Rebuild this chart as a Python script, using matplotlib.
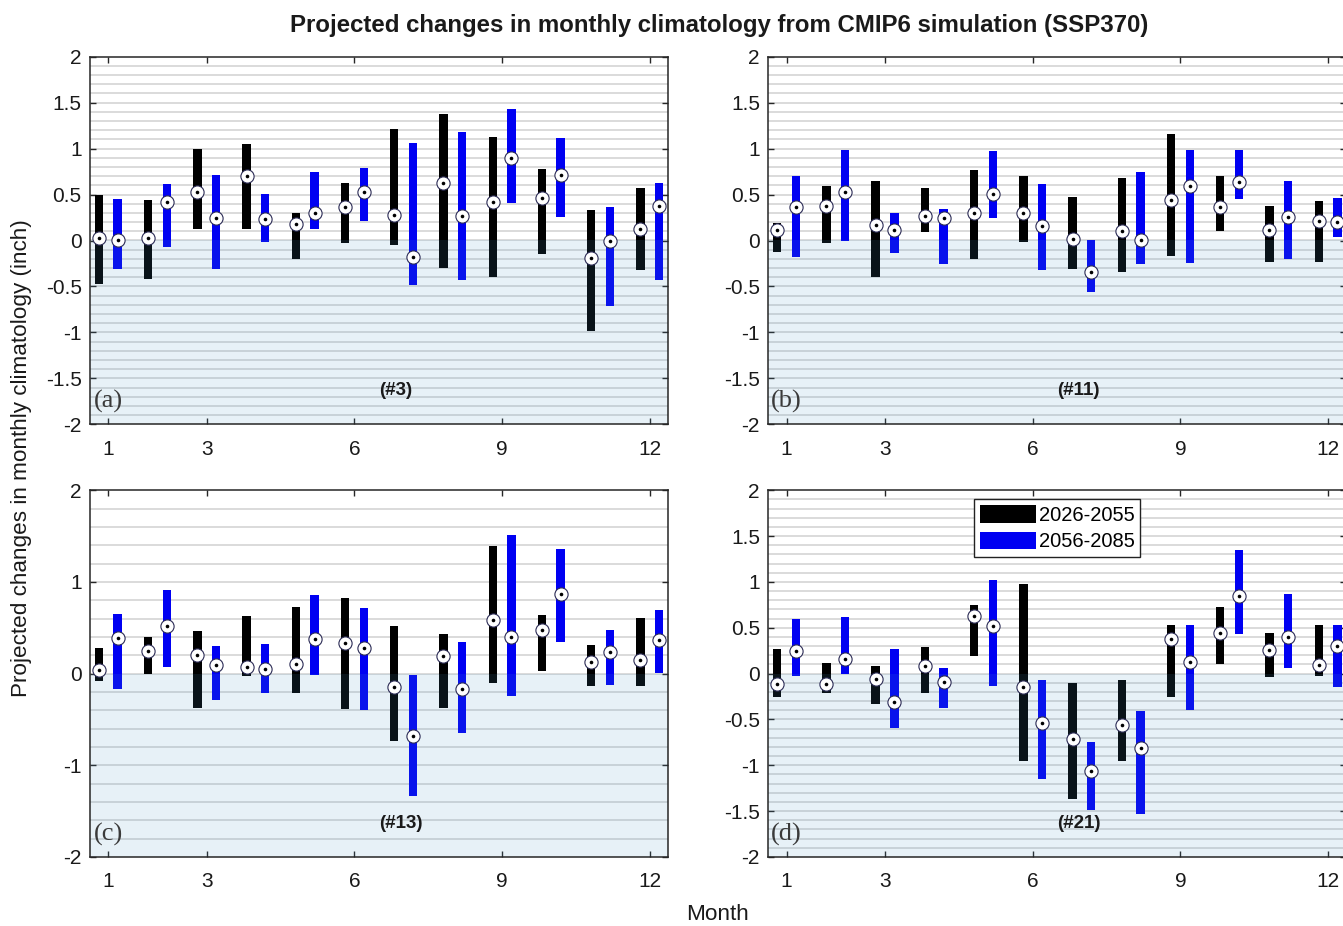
import matplotlib
matplotlib.use("Agg")
import matplotlib.pyplot as plt
import numpy as np
from matplotlib.patches import Patch
from matplotlib.ticker import FuncFormatter

plt.rcParams['font.family'] = ['Liberation Sans', 'DejaVu Sans']
plt.rcParams['axes.unicode_minus'] = False

months = list(range(1, 13))
xtick_months = [1, 3, 6, 9, 12]
periods = ['2026-2055', '2056-2085']
panel_letters = ['(a)', '(b)', '(c)', '(d)']
panel_ids = ['(#3)', '(#11)', '(#13)', '(#21)']

# Panel (a) #3
a_p1_high = [0.49, 0.44, 1.00, 1.05, 0.30, 0.63, 1.21, 1.38, 1.13, 0.78, 0.33, 0.57]
a_p1_low = [-0.47, -0.42, 0.12, 0.13, -0.20, -0.03, -0.05, -0.30, -0.40, -0.15, -0.98, -0.32]
a_p1_med = [0.03, 0.03, 0.53, 0.70, 0.18, 0.36, 0.28, 0.63, 0.42, 0.46, -0.19, 0.12]
a_p2_high = [0.45, 0.61, 0.71, 0.51, 0.74, 0.79, 1.06, 1.18, 1.43, 1.12, 0.36, 0.63]
a_p2_low = [-0.31, -0.07, -0.31, -0.02, 0.13, 0.21, -0.48, -0.43, 0.41, 0.26, -0.71, -0.43]
a_p2_med = [0.01, 0.42, 0.25, 0.23, 0.30, 0.53, -0.18, 0.27, 0.90, 0.71, -0.01, 0.38]

# Panel (b) #11
b_p1_high = [0.19, 0.59, 0.65, 0.57, 0.77, 0.70, 0.47, 0.68, 1.16, 0.70, 0.38, 0.43]
b_p1_low = [-0.12, -0.03, -0.40, 0.09, -0.20, -0.02, -0.31, -0.34, -0.17, 0.10, -0.23, -0.23]
b_p1_med = [0.11, 0.38, 0.17, 0.27, 0.30, 0.30, 0.02, 0.10, 0.44, 0.36, 0.11, 0.21]
b_p2_high = [0.70, 0.99, 0.30, 0.34, 0.97, 0.61, 0.01, 0.75, 0.99, 0.99, 0.65, 0.46]
b_p2_low = [-0.18, 0.00, -0.14, -0.26, 0.24, -0.32, -0.56, -0.26, -0.24, 0.45, -0.20, 0.04]
b_p2_med = [0.36, 0.53, 0.11, 0.24, 0.51, 0.16, -0.34, 0.01, 0.59, 0.64, 0.26, 0.20]

# Panel (c) #13
c_p1_high = [0.28, 0.40, 0.47, 0.63, 0.73, 0.82, 0.52, 0.43, 1.39, 0.64, 0.31, 0.61]
c_p1_low = [-0.08, 0.00, -0.38, -0.03, -0.21, -0.39, -0.73, -0.37, -0.10, 0.03, -0.13, -0.13]
c_p1_med = [0.04, 0.25, 0.20, 0.07, 0.11, 0.33, -0.15, 0.19, 0.58, 0.48, 0.13, 0.15]
c_p2_high = [0.65, 0.91, 0.30, 0.32, 0.86, 0.72, -0.02, 0.34, 1.51, 1.36, 0.48, 0.69]
c_p2_low = [-0.17, 0.07, -0.29, -0.21, -0.02, -0.40, -1.34, -0.65, -0.24, 0.34, -0.12, 0.01]
c_p2_med = [0.39, 0.52, 0.09, 0.05, 0.38, 0.28, -0.68, -0.17, 0.40, 0.87, 0.24, 0.37]

# Panel (d) #21
d_p1_high = [0.27, 0.12, 0.08, 0.29, 0.75, 0.98, -0.10, -0.07, 0.53, 0.73, 0.44, 0.53]
d_p1_low = [-0.25, -0.21, -0.33, -0.21, 0.19, -0.95, -1.37, -0.95, -0.25, 0.11, -0.04, -0.03]
d_p1_med = [-0.11, -0.11, -0.06, 0.08, 0.63, -0.15, -0.71, -0.56, 0.38, 0.44, 0.26, 0.09]
d_p2_high = [0.60, 0.62, 0.27, 0.06, 1.02, -0.07, -0.75, -0.41, 0.53, 1.35, 0.87, 0.53]
d_p2_low = [-0.03, 0.00, -0.59, -0.37, -0.14, -1.15, -1.49, -1.53, -0.40, 0.43, 0.06, -0.15]
d_p2_med = [0.25, 0.16, -0.31, -0.09, 0.52, -0.54, -1.06, -0.81, 0.13, 0.85, 0.40, 0.30]

panels = [
    (a_p1_low, a_p1_high, a_p1_med, a_p2_low, a_p2_high, a_p2_med),
    (b_p1_low, b_p1_high, b_p1_med, b_p2_low, b_p2_high, b_p2_med),
    (c_p1_low, c_p1_high, c_p1_med, c_p2_low, c_p2_high, c_p2_med),
    (d_p1_low, d_p1_high, d_p1_med, d_p2_low, d_p2_high, d_p2_med),
]

W, H = 1343, 926
fig = plt.figure(figsize=(W / 100, H / 100), dpi=100)

ax_w = 578 / W
ax_h_top = (424.3 - 56.7) / H
ax_h_bot = (857.0 - 490.3) / H
positions = [
    (90 / W, 1 - 424.3 / H, ax_w, ax_h_top),
    (768.3 / W, 1 - 424.3 / H, ax_w, ax_h_top),
    (90 / W, 1 - 857.0 / H, ax_w, ax_h_bot),
    (768.3 / W, 1 - 857.0 / H, ax_w, ax_h_bot),
]

black = '#000000'
blue = '#0000f2'
spine_col = '#262626'
grid_col = '#d8d8d8'
bw = 0.17
off = 0.19

fmt = FuncFormatter(lambda v, p: '%g' % v)

for i, (pos, data) in enumerate(zip(positions, panels)):
    ax = fig.add_axes(pos)
    p1l, p1h, p1m, p2l, p2h, p2m = [np.array(d) for d in data]
    x = np.array(months, dtype=float)
    ax.set_xlim(0.63, 12.37)
    ax.set_ylim(-2, 2)
    step = 0.2 if i == 2 else 0.1
    for g in np.arange(-2 + step, 2 - step / 2, step):
        ax.axhline(g, color=grid_col, lw=1.3, zorder=1)
    ax.bar(x - off, p1h - p1l, bottom=p1l, width=bw, color=black, zorder=2, linewidth=0)
    ax.bar(x + off, p2h - p2l, bottom=p2l, width=bw, color=blue, zorder=2, linewidth=0)
    ax.axhspan(-2, 0, color=(77 / 255, 153 / 255, 200 / 255), alpha=0.13, zorder=2.5, linewidth=0)
    for xx, mm in ((x - off, p1m), (x + off, p2m)):
        ax.plot(xx, mm, 'o', ms=9.5, mfc='white', mec='#2b2b55', mew=0.8, zorder=4, ls='none')
        ax.plot(xx, mm, 'o', ms=2.6, mfc='black', mec='black', mew=0, zorder=5, ls='none')
    ax.set_xticks(xtick_months)
    if i == 2:
        ax.set_yticks([-2, -1, 0, 1, 2])
    else:
        ax.set_yticks(np.arange(-2, 2.01, 0.5))
    ax.yaxis.set_major_formatter(fmt)
    ax.tick_params(axis='both', direction='in', length=4, width=1, color=spine_col,
                   labelsize=15, top=True, right=True, labelcolor='#1a1a1a')
    ax.tick_params(axis='x', pad=11)
    ax.tick_params(axis='y', pad=6)
    for s in ax.spines.values():
        s.set_color(spine_col)
        s.set_linewidth(1.1)
        s.set_zorder(6)
    ax.text(1.0, -1.75, panel_letters[i], ha='center', va='center', fontsize=19,
            family=['Liberation Serif', 'DejaVu Serif'], color='#3a3a3a', zorder=7)
    ax.text(6.5, -1.635, panel_ids[i], ha='left', va='center', fontsize=13.5,
            fontweight='bold', color='#1a1a1a', zorder=7)
    if i == 3:
        handles = [Patch(facecolor=black, edgecolor='none'), Patch(facecolor=blue, edgecolor='none')]
        leg = ax.legend(handles, periods, loc='upper left', bbox_to_anchor=(0.356, 0.976),
                        borderaxespad=0, fontsize=14.5, handlelength=2.8, handleheight=0.95,
                        handletextpad=0.1, labelspacing=0.35, borderpad=0.3,
                        fancybox=False, framealpha=1, edgecolor='#222222')
        leg.get_frame().set_linewidth(1.0)
        leg.set_zorder(8)

fig.text(0.5357, 0.973, 'Projected changes in monthly climatology from CMIP6 simulation (SSP370)',
         ha='center', va='center', fontsize=17.3, fontweight='bold', color='#1a1a1a')
fig.text(22 / W, 1 - 458 / H, 'Projected changes in monthly climatology (inch)',
         ha='center', va='center', rotation=90, fontsize=16.2, color='#1a1a1a')
fig.text(718 / W, 1 - 915 / H, 'Month', ha='center', va='center', fontsize=16.2, color='#1a1a1a')

fig.savefig('out.png', dpi=100)
